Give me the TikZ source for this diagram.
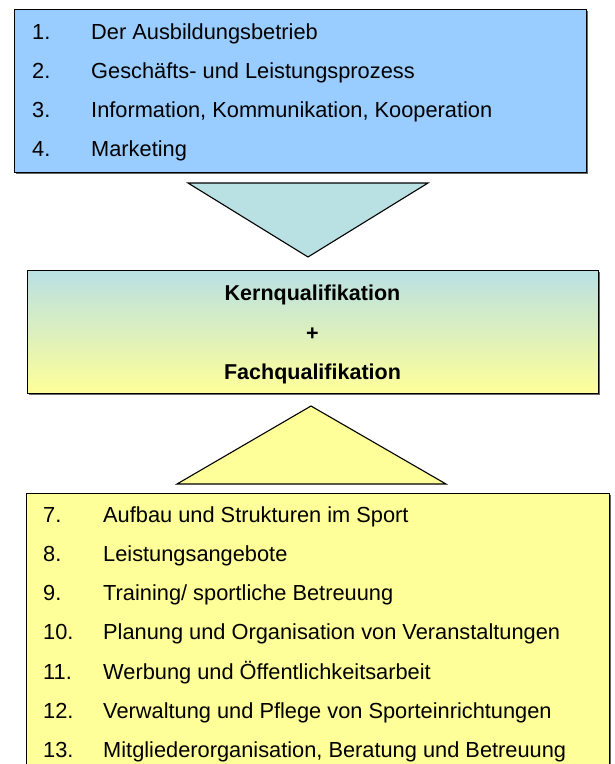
\documentclass[tikz,border=0pt]{standalone}
\usepackage{fontspec}
\setmainfont{Liberation Sans}
\usetikzlibrary{%
    positioning,
    shadows
}
\definecolor{topblue}{RGB}{153,204,255}
\definecolor{paleteal}{RGB}{185,224,227}
\definecolor{paleyellow}{RGB}{255,255,153}
\tikzset{
    listbox/.style = {draw, line width=1.3pt, anchor=north west, inner sep=0pt,
        drop shadow={shadow xshift=1.5pt, shadow yshift=-1.5pt, fill=black!60, opacity=1}},
    wedge/.style = {draw, line width=1.1pt, line join=miter},
    itemtext/.style = {anchor=base west, inner sep=0pt, font=\fontsize{21.8}{26}\selectfont},
    headtext/.style = {anchor=base, inner sep=0pt, font=\fontsize{21.5}{26}\selectfont\bfseries}
}

\begin{document}
\begin{tikzpicture}[x=1pt,y=-1pt]
    \useasboundingbox (0,0) rectangle (614,764);

    % Kernqualifikationen
    \node[listbox,fill=topblue,minimum width=572pt,minimum height=163pt] (kern) at (14,9) {};
    \foreach \n/\Label in {%
        1/Der Ausbildungsbetrieb,
        2/Geschäfts- und Leistungsprozess,
        3/{Information, Kommunikation, Kooperation},
        4/Marketing%
        }
    {
        \node[itemtext] (kn\n) at (32,{39*\n}) {\n.};
        \node[itemtext] (kl\n) at (91,{39*\n}) {\Label};
    }

    \coordinate (dl) at (188,183);
    \coordinate (dr) at (428,183);
    \coordinate (dtip) at (308,257);
    \draw[wedge,fill=paleteal] (dl) -- (dr) -- (dtip) -- cycle;

    % Mitte
    \node[listbox,top color=paleteal,bottom color=paleyellow,
        minimum width=571pt,minimum height=123pt] (mid) at (27,270) {};
    \node[headtext] (kq) at (312.5,300) {Kernqualifikation};
    \node[headtext] (plus) at (312.5,340) {+};
    \node[headtext] (fq) at (312.5,379) {Fachqualifikation};

    \coordinate (ul) at (177,484);
    \coordinate (ur) at (446,484);
    \coordinate (utip) at (311,406);
    \draw[wedge,fill=paleyellow] (ul) -- (ur) -- (utip) -- cycle;

    % Fachqualifikationen
    \node[listbox,fill=paleyellow,minimum width=583pt,minimum height=320pt] (fach) at (26,493) {};
    \foreach \n/\Label in {%
        7/Aufbau und Strukturen im Sport,
        8/Leistungsangebote,
        9/{Training/ sportliche Betreuung},
        10/Planung und Organisation von Veranstaltungen,
        11/Werbung und Öffentlichkeitsarbeit,
        12/Verwaltung und Pflege von Sporteinrichtungen,
        13/{Mitgliederorganisation, Beratung und Betreuung}%
        }
    {
        \node[itemtext] (fn\n) at (43,{522+39.3*(\n-7)}) {\n.};
        \node[itemtext] (fl\n) at (103,{522+39.3*(\n-7)}) {\Label};
    }
\end{tikzpicture}
\end{document}
